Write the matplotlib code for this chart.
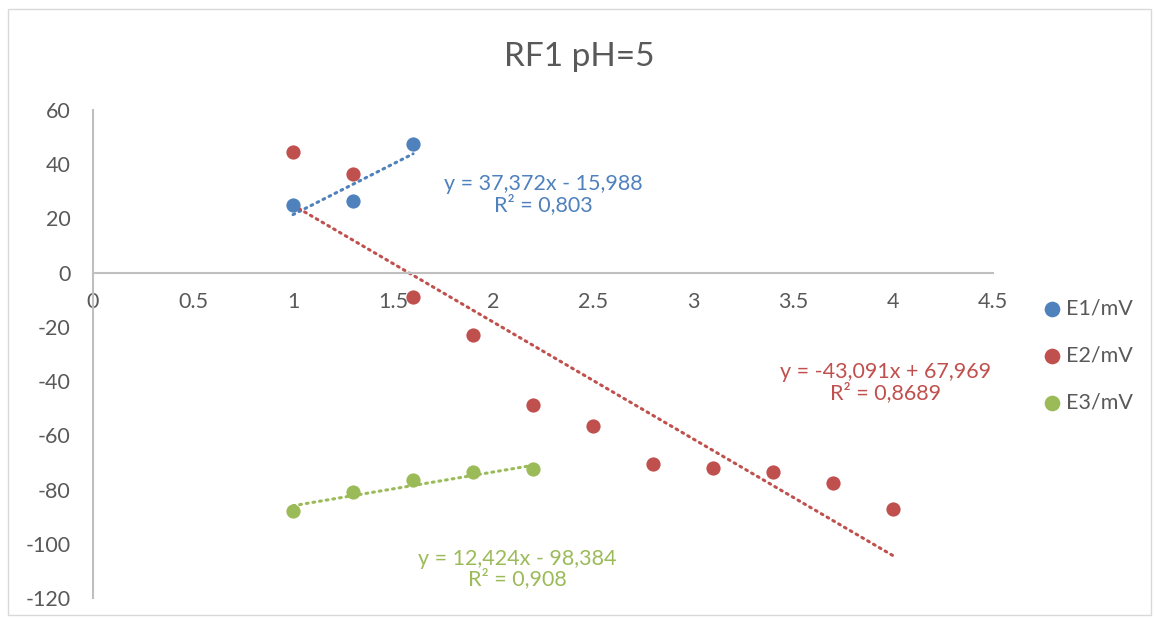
import matplotlib.pyplot as plt
import numpy as np
from matplotlib.patches import Rectangle

plt.rcParams['font.family'] = ['Lato', 'DejaVu Sans']
plt.rcParams['axes.unicode_minus'] = False

# data
x1 = [1, 1.3, 1.6]
e1 = [25, 26.5, 47.5]
x2 = [1, 1.3, 1.6, 1.9, 2.2, 2.5, 2.8, 3.1, 3.4, 3.7, 4]
e2 = [44.5, 36.5, -9, -23, -49, -56.5, -70.5, -72, -73.5, -77.5, -87]
x3 = [1, 1.3, 1.6, 1.9, 2.2]
e3 = [-88, -81, -76.5, -73.5, -72.5]

# trendline coefficients as printed on the chart
fit1 = (37.372, -15.988)
fit2 = (-43.091, 67.969)
fit3 = (12.424, -98.384)
labels = ['E1/mV', 'E2/mV', 'E3/mV']
eq_texts = ['y = 37,372x - 15,988\nR² = 0,803',
            'y = -43,091x + 67,969\nR² = 0,8689',
            'y = 12,424x - 98,384\nR² = 0,908']

colors = ['#4F81BD', '#C0504D', '#9BBB59']

fig = plt.figure(figsize=(11.54, 6.21), dpi=100)
ax = fig.add_axes([0.0806, 0.037, 0.78, 0.786])

series = [(x1, e1, fit1), (x2, e2, fit2), (x3, e3, fit3)]
for (xs, ys, (m, b)), c, lab in zip(series, colors, labels):
    ax.scatter(xs, ys, s=105, color=c, label=lab, zorder=3, linewidths=0)
    xx = np.array([min(xs), max(xs)])
    ax.plot(xx, m * xx + b, color=c, lw=2.2, linestyle=(0, (0.6, 1.6)),
            dash_capstyle='round', zorder=2)

# equation labels
ax.text(2.25, 28.7, eq_texts[0], color=colors[0], ha='center', va='center', fontsize=15.5, linespacing=1.0)
ax.text(3.96, -40.5, eq_texts[1], color=colors[1], ha='center', va='center', fontsize=15.5, linespacing=1.0)
ax.text(2.12, -109.3, eq_texts[2], color=colors[2], ha='center', va='center', fontsize=15.5, linespacing=1.0)

ax.set_xlim(0, 4.5)
ax.set_ylim(-120, 60)
ax.set_xticks(np.arange(0, 4.51, 0.5))
ax.set_xticklabels(['0', '0.5', '1', '1.5', '2', '2.5', '3', '3.5', '4', '4.5'])
ax.set_yticks(np.arange(-120, 61, 20))

ax.spines['top'].set_visible(False)
ax.spines['right'].set_visible(False)
ax.spines['left'].set_position(('data', 0))
ax.spines['bottom'].set_position(('data', 0))
for s in ['left', 'bottom']:
    ax.spines[s].set_color('#BFBFBF')
    ax.spines[s].set_linewidth(1.5)
ax.tick_params(length=0, labelsize=15.5, labelcolor='#595959')
ax.tick_params(axis='y', pad=16)
ax.tick_params(axis='x', pad=14)

fig.text(0.502, 0.908, 'RF1 pH=5', ha='center', va='center', fontsize=24, color='#595959')

leg = ax.legend(loc='center left', bbox_to_anchor=(1.03, 0.497), frameon=False,
                fontsize=15.5, handletextpad=0.05, labelspacing=1.25, markerscale=1.1,
                handlelength=1.2, labelcolor='#595959')

fig.patches.append(Rectangle((0.007, 0.01), 0.99, 0.975, transform=fig.transFigure,
                             fill=False, edgecolor='#D9D9D9', lw=1))

plt.savefig('out.png', dpi=100)
